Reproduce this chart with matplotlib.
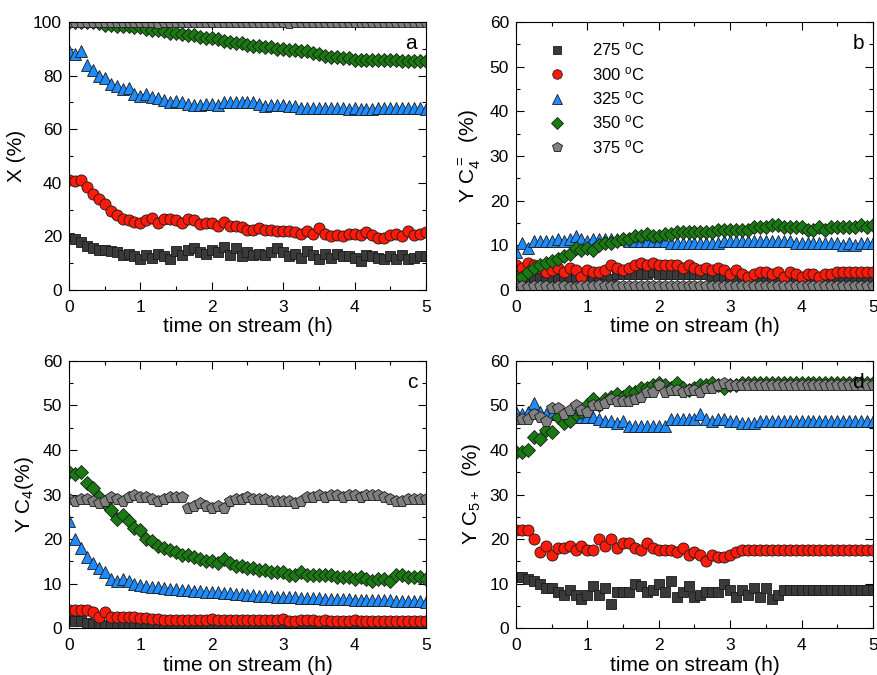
import matplotlib
matplotlib.use("Agg")
import matplotlib.pyplot as plt
from matplotlib.ticker import MultipleLocator

plt.rcParams['font.family'] = ['Liberation Sans', 'DejaVu Sans']
plt.rcParams['mathtext.fontset'] = 'custom'
plt.rcParams['mathtext.rm'] = 'Liberation Sans'
plt.rcParams['mathtext.it'] = 'Liberation Sans:italic'
plt.rcParams['mathtext.bf'] = 'Liberation Sans:bold'

# time on stream, one sample every 5 min
minutes = list(range(0, 305, 5))
time_h = [m / 60 for m in minutes]

temps = ['275', '300', '325', '350', '375']

# (a) conversion X (%)
a_275 = [19.5, 19, 18, 16.5, 15.5, 15, 15, 14.5, 14, 13,
         13.5, 12.5, 11.5, 13, 12, 13.5, 12.5, 11.5, 14.5, 13,
         15, 15.5, 14, 13.5, 15, 14, 16, 13, 15.5, 12.5,
         14, 13, 13.5, 13, 14, 15.5, 14, 12.5, 13.5, 12,
         14.5, 13, 11.5, 13.5, 12, 13.5, 12.5, 12.5, 12, 11,
         13, 12.5, 12, 11.5, 12.5, 11.5, 13, 11.5, 12, 12.5,
         12.5]
a_300 = [41, 40.5, 41, 38.5, 36, 34, 32, 29.5, 28, 26.5,
         26, 25.5, 25, 26, 27, 25, 26.5, 26.5, 26, 25,
         26.5, 26, 24.5, 25, 25, 24, 25.5, 24, 24, 23.5,
         22.5, 22.5, 23, 22.5, 22.5, 22, 22, 22, 21.5, 21,
         22, 21, 23, 21, 20, 20.5, 20, 21, 21, 20.5,
         21.5, 20.5, 19.5, 19.5, 20.5, 21, 20, 22, 20.5, 21,
         21.5]
a_325 = [89, 88, 89, 84, 82, 80, 79, 77, 76, 75,
         75.5, 73, 72.5, 73, 72, 71.5, 71, 70, 70.5, 70,
         69.5, 69, 69, 69.5, 69.5, 69, 70, 70, 70, 70,
         70, 70, 69.5, 68.5, 69, 69, 69, 68.5, 68.5, 68,
         68, 68, 68, 68, 68, 68, 68, 67.5, 68, 67.5,
         67.5, 67.5, 68, 68, 68, 68, 68, 68, 68, 68,
         67.5]
a_350 = [100, 100, 100, 100, 100, 99.5, 99, 99, 98.5, 98.5,
         98.5, 98, 98, 97.5, 97, 97, 96.5, 96, 96, 95.5,
         95, 95, 94.5, 94, 94, 93.5, 93, 92.5, 92, 92,
         91.5, 91, 91, 90.5, 90.5, 90, 90, 89.5, 89.5, 89,
         89, 88.5, 88, 87.5, 87, 87, 86.5, 86.5, 86, 86,
         86, 86, 86, 86, 86, 86, 85.5, 85.5, 85.5, 85.5,
         85.5]
a_375 = [100, 100, 100, 100, 100, 100, 100, 100, 100, 100,
         100, 100, 100, 100, 100, 99.5, 100, 100, 100, 100,
         100, 100, 100, 100, 100, 100, 100, 100, 100, 100,
         100, 100, 100, 100, 100, 100, 100, 99.5, 100, 100,
         100, 100, 100, 100, 100, 100, 100, 100, 100, 100,
         100, 100, 100, 100, 100, 100, 100, 100, 100, 100,
         100]

# (b) yield of butenes
b_275 = [2.5, 2.5, 3, 3, 3, 3, 3, 3, 2.5, 2.5,
         2.5, 2.5, 2.5, 3, 3, 3.5, 2.5, 3.5, 3.5, 3.5,
         3.5, 3.5, 3.5, 4, 3.5, 3.5, 3.5, 3.5, 3.5, 3.5,
         3.5, 3.5, 3.5, 3, 3, 3, 3, 2.5, 2.5, 2.5,
         2.5, 2.5, 2.5, 2.5, 2.5, 2.5, 2.5, 2.5, 2.5, 2.5,
         2.5, 2.5, 2.5, 2.5, 2.5, 2.5, 2.5, 2.5, 2.5, 2.5,
         2.5]
b_300 = [5.5, 5, 6, 5.5, 5, 4, 4.5, 5, 4, 5,
         4.5, 3, 4.5, 4, 4, 4.5, 5.5, 5, 4.5, 5,
         5.5, 6, 5.5, 6, 5.5, 5.5, 5.5, 5.5, 5, 5.5,
         5, 4.5, 5, 4.5, 5, 4.5, 3.5, 4.5, 3.5, 3,
         3.5, 4, 4, 3.5, 4, 3, 4, 3.5, 3, 3.5,
         3.5, 3, 3.5, 3.5, 4, 4, 4, 4, 4, 4,
         4]
b_325 = [8.5, 10.5, 9.5, 11, 11, 11, 11, 11.5, 11, 11.5,
         12, 11.5, 11, 11.5, 11.5, 11.5, 11.5, 11.5, 11.5, 11,
         11, 11, 11, 11, 11, 11, 10.5, 10.5, 10.5, 10.5,
         10.5, 10.5, 10.5, 10.5, 10.5, 11, 11, 11, 11, 11,
         11, 11, 11, 11, 11, 11, 11, 10.5, 10.5, 10.5,
         10.5, 10.5, 10.5, 10.5, 10.5, 10, 10.5, 10, 10.5, 10.5,
         10.5]
b_350 = [3, 3, 4, 5, 5.5, 6, 6.5, 7, 7.5, 8,
         9.5, 9, 9.5, 9, 10, 10.5, 10.5, 11, 11.5, 11.5,
         12, 12, 12.5, 12, 12, 12.5, 12.5, 13, 13, 13,
         13, 13, 13, 13, 13.5, 13.5, 13.5, 13.5, 13.5, 13.5,
         14, 14, 14, 14.5, 14.5, 14, 14, 14, 14, 13.5,
         13.5, 14, 13.5, 14, 14, 14, 14, 14, 14.5, 14,
         14.5]
b_375 = [0.8, 0.8, 0.7, 0.8, 0.9, 0.8, 0.7, 0.8, 0.8, 0.7,
         0.7, 0.8, 1, 0.8, 1.2, 0.8, 0.8, 0.9, 0.8, 0.8,
         0.8, 0.9, 0.8, 0.8, 0.8, 0.8, 0.9, 1, 1, 1,
         1, 1, 1, 1, 1, 1, 1, 1, 1, 1,
         1, 1, 1, 1, 1, 1, 1, 1, 1, 1,
         1, 1, 1, 1, 1, 1, 1, 1, 1, 1,
         1]

# (c) yield of butanes
c_275 = [2, 1.5, 1.5, 1.2, 1, 0.8, 0.7, 0.6, 0.5, 0.5,
         0.4, 0.4, 0.3, 0.3, 0.3, 0.2, 0.2, 0.2, 0.2, 0.2,
         0.2, 0.2, 0.2, 0.2, 0.2, 0.2, 0.2, 0.2, 0.2, 0.2,
         0.2, 0.2, 0.2, 0.2, 0.2, 0.2, 0.2, 0.2, 0.2, 0.2,
         0.1, 0.1, 0.1, 0.1, 0.1, 0.1, 0.1, 0.1, 0.1, 0.1,
         0.1, 0.1, 0.1, 0.1, 0.1, 0.1, 0.1, 0.1, 0.1, 0.1,
         0.1]
c_300 = [4, 4, 4, 4, 3.5, 2.5, 3.5, 2.5, 2.5, 2.5,
         2.5, 2.5, 2.3, 2.2, 2, 2, 1.8, 1.8, 1.8, 1.7,
         1.7, 1.7, 1.8, 1.8, 2, 1.8, 1.7, 1.7, 1.7, 1.7,
         1.7, 1.7, 1.7, 1.8, 1.7, 1.7, 2, 1.6, 1.6, 1.7,
         1.7, 1.7, 1.6, 1.7, 1.6, 1.6, 1.6, 1.6, 1.7, 1.6,
         1.5, 1.6, 1.5, 1.6, 1.6, 1.5, 1.6, 1.5, 1.6, 1.5,
         1.6]
c_325 = [24, 20, 18, 16, 14.5, 13.5, 12.5, 11, 10.5, 11,
         10.5, 10, 9.7, 9.5, 9.3, 9.2, 9, 8.8, 8.7, 8.6,
         8.5, 8.4, 8.3, 8.2, 8.2, 8, 7.9, 7.8, 7.7, 7.6,
         7.5, 7.4, 7.3, 7.2, 7.1, 7, 7, 6.9, 6.9, 6.8,
         6.8, 6.7, 6.7, 6.6, 6.6, 6.5, 6.5, 6.5, 6.4, 6.4,
         6.3, 6.3, 6.3, 6.2, 6.2, 6.1, 6.1, 6, 6, 6,
         5.9]
c_350 = [35, 34.5, 35, 32.5, 31.5, 29.5, 28, 26.5, 24.5, 25.5,
         24, 22.5, 22, 20, 19.5, 18.5, 18, 17.5, 17, 16.5,
         16.5, 16, 15.5, 15, 15, 14.5, 15.5, 14.5, 14, 14,
         13.5, 13.5, 13, 13, 12.5, 12.5, 12.5, 12, 12, 12.5,
         12, 12, 12, 12, 12, 11.5, 11.5, 11.5, 11, 11.5,
         11, 10.5, 11, 11, 10.5, 12, 12, 11.5, 11.5, 11.5,
         11]
c_375 = [29, 28.5, 29, 29, 28.5, 28, 28.5, 29.5, 29, 28.5,
         29.5, 30, 29.5, 29.5, 29, 28.5, 29, 29.5, 29.5, 29.5,
         27, 27.5, 28, 27.5, 27, 27.5, 27, 28.5, 29, 29,
         29.5, 29, 29, 29, 28.5, 28.5, 28.5, 28.5, 28, 28.5,
         29.5, 29.5, 30, 29.5, 30, 30, 29.5, 30, 30, 29.5,
         30, 30, 30, 29.5, 29, 28.5, 28.5, 29, 29, 29,
         29]

# (d) yield of C5+
d_275 = [11.5, 11.5, 11, 10.5, 10, 9, 9, 8, 7.5, 8.5,
         7.5, 6.5, 7.5, 9.5, 7.5, 9, 5.5, 8, 8, 8,
         10, 9.5, 8, 8.5, 10, 8, 10.5, 7, 8, 9.5,
         7, 7.5, 8, 8, 8, 10, 8.5, 7, 8.5, 7.5,
         9, 7, 9, 6.5, 7.5, 8.5, 8.5, 8.5, 8.5, 8.5,
         8.5, 8.5, 8.5, 8.5, 8.5, 8.5, 8.5, 8.5, 8.5, 8.5,
         8.5]
d_300 = [22, 22, 22, 20, 17, 18.5, 16.5, 18, 18, 18.5,
         17.5, 18.5, 17.5, 17.5, 20, 18.5, 20, 18, 19, 19,
         18, 17.5, 19, 18, 17.5, 17.5, 17.5, 17, 18, 16.5,
         17, 16.5, 15, 16.5, 16, 16, 16.5, 17, 17.5, 17.5,
         17.5, 17.5, 17.5, 17.5, 17.5, 17.5, 17.5, 17.5, 17.5, 17.5,
         17.5, 17.5, 17.5, 17.5, 17.5, 17.5, 17.5, 17.5, 17.5, 17.5,
         17.5]
d_325 = [48.5, 48, 48.5, 50.5, 48.5, 48, 48, 48, 48, 47.5,
         47.5, 47.5, 47.5, 47.5, 47, 46.5, 46.5, 46, 46.5, 45.5,
         45.5, 45.5, 45.5, 45.5, 45.5, 45.5, 47, 47, 47, 47,
         47, 48, 47, 46.5, 47, 47, 46.5, 46.5, 46, 46,
         46, 46.5, 46.5, 46.5, 46.5, 46.5, 46.5, 46.5, 46.5, 46.5,
         46.5, 46.5, 46.5, 46.5, 46.5, 46.5, 46.5, 46.5, 46.5, 46.5,
         46.5]
d_350 = [39.5, 39.5, 40, 43, 42.5, 44.5, 44, 47.5, 46, 46.5,
         48, 48.5, 50, 51.5, 50, 51.5, 52, 52.5, 52, 53,
         53, 54, 54, 54.5, 55, 54.5, 54, 55, 54, 53.5,
         54, 54.5, 54.5, 55, 54.5, 54, 54.5, 54.5, 55, 55,
         55, 55, 55, 55, 55, 55, 55, 55, 55, 55,
         55, 55, 55, 55, 55, 55, 55, 55, 55, 55,
         55]
d_375 = [47, 47, 47, 48, 47.5, 46.5, 49.5, 49.5, 48, 49,
         50, 49, 48.5, 50, 50, 50.5, 51.5, 51, 51, 51,
         51.5, 52, 53, 53, 54.5, 53, 53.5, 53.5, 53, 53.5,
         53.5, 53, 54, 54, 54.5, 55, 54.5, 54.5, 54.5, 54.5,
         54.5, 54.5, 54.5, 54.5, 54.5, 54.5, 54.5, 54.5, 54.5, 54.5,
         54.5, 54.5, 54.5, 54.5, 54.5, 54.5, 54.5, 54.5, 54.5, 54.5,
         54.5]

styles = [
    dict(marker='s', color='#3a3a3a', ms=7.5),
    dict(marker='o', color='#ff1a0a', ms=8),
    dict(marker='^', color='#1e8cff', ms=8.5),
    dict(marker='D', color='#1a7a12', ms=7.5),
    dict(marker='p', color='#808080', ms=8.5),
]

panels = [
    ([a_275, a_300, a_325, a_350, a_375], 'X (%)', 100, 20, 'a'),
    ([b_275, b_300, b_325, b_350, b_375], r'Y C$_4^{=}$  (%)', 60, 10, 'b'),
    ([c_275, c_300, c_325, c_350, c_375], r'Y C$_4$(%)', 60, 10, 'c'),
    ([d_275, d_300, d_325, d_350, d_375], r'Y C$_{5+}$  (%)', 60, 10, 'd'),
]

positions = [
    [0.0787, 0.5704, 0.407, 0.397],
    [0.5884, 0.5704, 0.407, 0.397],
    [0.0787, 0.0696, 0.407, 0.3956],
    [0.5884, 0.0696, 0.407, 0.3956],
]

fig = plt.figure(figsize=(8.77, 6.75), dpi=100)

for (series, ylabel, ymax, ystep, letter), pos in zip(panels, positions):
    ax = fig.add_axes(pos)
    for vals, st, t in zip(series, styles, temps):
        ax.plot(time_h, vals, linestyle='none', marker=st['marker'],
                markersize=st['ms'], markerfacecolor=st['color'],
                markeredgecolor='#1a1a1a', markeredgewidth=0.6,
                label=t + r' $^{\rm o}$C')
    ax.set_xlim(0, 5)
    ax.set_ylim(0, ymax)
    ax.xaxis.set_major_locator(MultipleLocator(1))
    ax.xaxis.set_minor_locator(MultipleLocator(0.5))
    ax.yaxis.set_major_locator(MultipleLocator(ystep))
    ax.yaxis.set_minor_locator(MultipleLocator(ystep / 2))
    ax.tick_params(which='both', direction='in', top=True, right=True,
                   labelsize=12.5, width=0.8)
    ax.tick_params(which='major', length=6)
    ax.tick_params(axis='x', which='major', pad=7)
    ax.tick_params(axis='y', which='major', pad=5)
    ax.tick_params(which='minor', length=3)
    for sp in ax.spines.values():
        sp.set_linewidth(0.8)
    ax.set_xlabel('time on stream (h)', fontsize=15, labelpad=2)
    ax.set_ylabel(ylabel, fontsize=15, labelpad=5)
    ax.text(0.975, 0.955, letter, transform=ax.transAxes, ha='right',
            va='top', fontsize=15)
    if letter == 'b':
        ax.legend(loc='upper left', bbox_to_anchor=(0.05, 0.955),
                  frameon=False, fontsize=12, markerscale=0.85,
                  handletextpad=1.1, labelspacing=0.38, borderaxespad=0)

fig.savefig('out.png', dpi=100)
